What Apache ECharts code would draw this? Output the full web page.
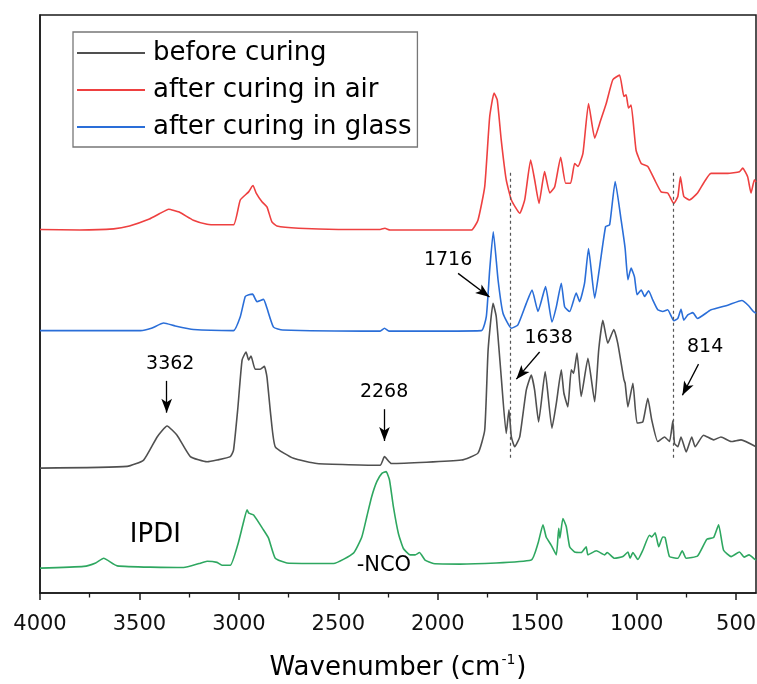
<!DOCTYPE html>
<html>
<head>
<meta charset="utf-8">
<script src="https://cdn.jsdelivr.net/npm/echarts@6/dist/echarts.min.js"></script>
<style>html,body{margin:0;padding:0;background:#fff}#c{width:757px;height:684px}</style>
</head>
<body>
<div id="c"></div>
<script>
// ---- data (wavenumber in cm-1, absorbance in arbitrary offset units) ----
const airWn  = [4000,3800,3630,3550,3450,3400,3353,3300,3229,3160,3110,3027,2993,2951,2935,2929,2913,2884,2859,2834,2809,2700,2500,2290,2266,2240,2000,1831,1798,1764,1739,1717,1701,1681,1656,1630,1588,1563,1533,1513,1491,1463,1437,1412,1382,1357,1332,1312,1295,1270,1242,1211,1181,1153,1120,1086,1064,1053,1041,1028,1003,977,944,910,877,844,813,793,780,763,734,694,626,542,483,467,442,425,408,400];
const airAbs = [62.9,62.8,63.0,63.5,64.7,65.6,66.4,65.9,64.5,63.8,63.7,63.7,68.0,69.4,70.3,70.5,69.2,67.7,66.8,64.2,63.5,63.1,62.9,62.9,63.1,62.8,62.8,62.8,64.5,70.3,82.4,86.5,85.3,78.4,71.5,68.0,65.7,68.0,74.9,71.5,67.4,72.9,69.2,70.3,75.4,70.9,70.9,74.3,73.8,76.1,84.7,78.7,81.8,84.7,88.8,89.6,85.9,86.2,83.9,84.4,76.6,74.3,73.8,71.5,69.4,69.2,67.4,68.6,72.0,68.6,68.0,69.2,72.6,72.6,72.9,73.5,72.0,69.2,71.5,71.1];

const glassWn  = [4000,3495,3440,3378,3320,3228,3027,2993,2968,2950,2931,2909,2876,2859,2826,2780,2290,2268,2245,1781,1756,1739,1721,1697,1672,1630,1597,1555,1526,1496,1458,1426,1404,1379,1362,1337,1304,1287,1262,1242,1211,1185,1156,1136,1108,1078,1058,1044,1028,1011,998,977,960,940,919,894,869,844,813,793,777,763,743,718,694,626,542,471,437,413,400];
const glassAbs = [45.4,45.4,45.8,46.7,46.2,45.6,45.4,47.8,51.3,51.6,51.7,50.4,50.8,49.3,46.0,45.5,45.3,45.8,45.3,45.4,47.8,55.9,62.5,54.2,48.4,45.8,46.4,50.1,52.4,48.7,53.0,46.9,49.5,53.6,49.5,48.7,51.9,50.4,53.6,59.6,51.0,56.7,63.4,63.7,71.2,64.5,59.6,54.2,56.2,54.7,51.6,52.4,51.3,52.3,50.7,49.0,48.7,49.0,47.1,47.5,49.1,47.2,48.1,48.5,47.5,49.0,49.8,50.6,49.7,48.7,48.4];

const beforeWn  = [4000,3562,3479,3411,3361,3311,3244,3160,3110,3043,3027,3006,2984,2964,2951,2939,2918,2893,2872,2859,2839,2817,2725,2608,2290,2268,2233,1881,1798,1764,1747,1722,1706,1681,1656,1642,1630,1613,1588,1555,1530,1513,1493,1460,1426,1404,1379,1366,1346,1329,1317,1300,1279,1245,1211,1191,1170,1145,1115,1095,1064,1058,1044,1019,998,969,944,924,894,860,835,818,810,793,777,751,723,706,664,613,576,525,475,400];
const beforeAbs = [21.6,21.9,23.0,27.0,28.9,27.3,23.6,22.7,23.0,23.6,24.7,31.7,40.3,41.7,40.3,41.0,38.7,38.7,39.2,37.4,30.5,25.3,23.3,22.4,22.1,23.6,22.4,23.0,24.2,28.2,42.0,50.1,47.8,37.4,27.6,31.7,27.0,25.3,27.0,35.1,37.7,35.1,29.6,38.3,28.5,32.8,38.6,34.6,32.2,38.6,38.0,41.5,34.0,40.6,33.1,42.0,47.2,43.2,45.6,43.2,36.9,36.3,32.2,36.3,29.4,29.6,33.7,29.9,26.2,27.0,26.2,29.8,25.9,25.3,27.0,24.4,27.0,25.3,27.3,26.5,27.0,26.2,26.5,25.3];

const ipdiWn  = [4000,3780,3720,3680,3612,3278,3200,3160,3110,3085,3043,3006,2980,2959,2950,2926,2876,2851,2817,2759,2524,2424,2382,2357,2332,2306,2281,2260,2243,2223,2198,2173,2139,2114,2092,2064,2022,1888,1530,1496,1471,1455,1430,1404,1392,1386,1371,1354,1337,1312,1279,1254,1245,1203,1161,1148,1111,1069,1044,1033,1019,994,969,936,924,907,889,869,857,835,793,771,751,694,647,613,588,563,525,483,460,435,405,400];
const ipdiAbs = [4.3,4.6,5.2,6.0,4.7,4.4,5.1,5.5,5.3,4.8,4.8,8.3,11.8,14.4,13.8,13.5,10.9,9.5,6.0,5.2,5.1,6.9,9.7,13.2,16.7,19.3,20.7,21.0,19.6,14.9,10.3,7.7,6.6,6.6,7.0,5.7,5.1,5.0,5.7,8.6,11.8,9.7,8.3,6.6,11.2,9.5,12.9,11.5,8.0,7.1,7.0,8.0,6.6,7.3,6.6,7.0,6.0,6.3,7.1,6.0,7.0,5.8,7.4,10.0,9.7,10.4,8.0,9.7,9.6,6.3,6.0,7.3,6.0,6.4,9.3,9.6,11.8,7.4,6.3,7.1,6.2,6.6,5.8,5.7];

const majorTicks = [4000,3500,3000,2500,2000,1500,1000,500];
const minorTicks = [3750,3250,2750,2250,1750,1250,750];
const seriesNames = ['before curing','after curing in air','after curing in glass','IPDI'];
const peakMarks = [3362, 2268, 1716, 1638, 814];

// ---- chart ----
const FONT = 'DejaVu Sans';
const zip = (a, b) => a.map((x, i) => [x, b[i]]);
const chart = echarts.init(document.getElementById('c'), null, {renderer: 'canvas'});

function lineSeries(name, wn, ab, color) {
  return {
    name, type: 'line', data: zip(wn, ab), showSymbol: false, symbol: 'none',
    lineStyle: {color, width: 1.6}, itemStyle: {color}, smooth: 0.15,
    xAxisIndex: 0, yAxisIndex: 0, silent: true, z: 3
  };
}

const option = {
  animation: false,
  backgroundColor: '#fff',
  grid: {left: 40, right: 1, top: 15, bottom: 91, show: true, borderColor: '#1a1a1a', borderWidth: 1.5,
         containLabel: false, outerBoundsMode: 'none'},
  legend: {
    data: seriesNames.slice(0, 3),
    left: 73, top: 32, orient: 'vertical',
    icon: 'rect', itemWidth: 68, itemHeight: 2, itemGap: 11,
    padding: [8, 6, 7, 4],
    borderColor: '#777', borderWidth: 1.3,
    textStyle: {fontFamily: FONT, fontSize: 26, color: '#000', lineHeight: 26, padding: [0, 0, 0, 3]},
    selectedMode: false
  },
  xAxis: [{
    type: 'value', inverse: true, min: 400, max: 4000,
    axisLine: {show: true, lineStyle: {color: '#1a1a1a', width: 1.5}},
    axisTick: {show: true, inside: false, length: 7, lineStyle: {color: '#1a1a1a', width: 1.5}, customValues: majorTicks},
    axisLabel: {show: true, margin: 21, fontFamily: FONT, fontSize: 21, color: '#111', customValues: majorTicks,
                formatter: v => String(v)},
    splitLine: {show: false},
    name: '{n|Wavenumber (cm}{s|-1}{n|)}',
    nameLocation: 'middle', nameGap: 60,
    nameTextStyle: {rich: {
      n: {fontFamily: FONT, fontSize: 26, color: '#000', lineHeight: 30},
      s: {fontFamily: FONT, fontSize: 14, color: '#000', lineHeight: 30, verticalAlign: 'top', padding: [0, 1, 12, 1]}
    }}
  }, {
    type: 'value', inverse: true, min: 400, max: 4000, position: 'bottom',
    axisLine: {show: false},
    axisTick: {show: true, length: 4.5, lineStyle: {color: '#1a1a1a', width: 1.3}, customValues: minorTicks},
    axisLabel: {show: false}, splitLine: {show: false}
  }],
  yAxis: {
    type: 'value', min: 0, max: 100,
    axisLine: {show: true, lineStyle: {color: '#1a1a1a', width: 1.5}},
    axisTick: {show: false}, axisLabel: {show: false}, splitLine: {show: false}
  },
  series: [
    lineSeries(seriesNames[0], beforeWn, beforeAbs, '#505050'),
    lineSeries(seriesNames[1], airWn, airAbs, '#ee4040'),
    lineSeries(seriesNames[2], glassWn, glassAbs, '#2a6ed8'),
    lineSeries(seriesNames[3], ipdiWn, ipdiAbs, '#2ea760'),
    {
      name: 'guides', type: 'line', data: [], silent: true,
      markLine: {
        silent: true, symbol: ['none', 'none'], animation: false,
        label: {show: false},
        lineStyle: {color: '#555', width: 1.2, type: [3, 3]},
        data: [
          [{coord: [peakMarks[3], 72.7]}, {coord: [peakMarks[3], 22.9]}],
          [{coord: [peakMarks[4], 72.7]}, {coord: [peakMarks[4], 22.9]}]
        ]
      }
    },
    {
      name: 'arrows', type: 'line', data: [], silent: true,
      markLine: {
        silent: true, symbol: ['none', 'arrow'], symbolSize: [8, 14], animation: false,
        label: {show: false},
        lineStyle: {color: '#000', width: 1.3, type: 'solid'},
        itemStyle: {color: '#000'},
        data: [
          [{coord: [3363, 36.7]}, {coord: [3363, 31.2]}],
          [{coord: [2268, 31.8]}, {coord: [2268, 26.3]}],
          [{coord: [1898, 55.3]}, {coord: [1740, 51.2]}],
          [{coord: [1488, 41.7]}, {coord: [1605, 37.0]}],
          [{coord: [689, 39.6]}, {coord: [770, 34.2]}]
        ]
      }
    }
  ]
};
chart.setOption(option);

// text annotations placed in data coordinates
const notes = [
  {t: String(peakMarks[0]), wn: 3345, v: 39.6, size: 19},
  {t: String(peakMarks[1]), wn: 2270, v: 34.8, size: 19},
  {t: String(peakMarks[2]), wn: 1948, v: 57.6, size: 19},
  {t: String(peakMarks[3]), wn: 1443, v: 44.1, size: 19},
  {t: String(peakMarks[4]), wn: 656, v: 42.5, size: 19},
  {t: 'IPDI', wn: 3420, v: 10.0, size: 26},
  {t: '-NCO', wn: 2271, v: 4.7, size: 21}
];
chart.setOption({
  graphic: notes.map(n => {
    const p = chart.convertToPixel({xAxisIndex: 0, yAxisIndex: 0}, [n.wn, n.v]);
    return {type: 'text', x: p[0], y: p[1], z: 10, silent: true,
      style: {text: n.t, fontFamily: FONT, fontSize: n.size, fill: '#000', align: 'center', verticalAlign: 'middle'}};
  })
});
</script>
</body>
</html>
